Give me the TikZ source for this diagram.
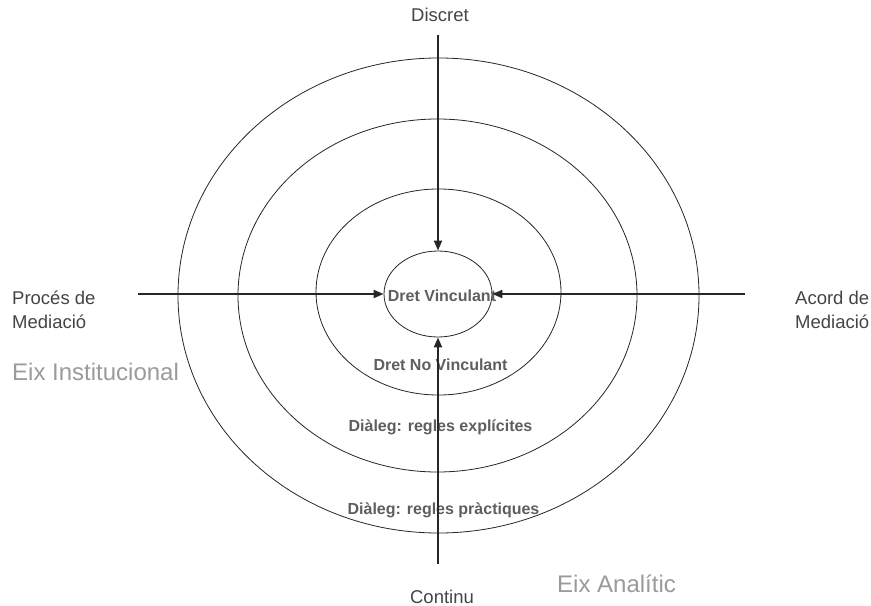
\documentclass[tikz,border=0pt]{standalone}
\usepackage{fontspec}
\setmainfont{Liberation Sans}
\usetikzlibrary{arrows.meta,shapes.geometric}
\definecolor{outertxt}{HTML}{444444}
\definecolor{innertxt}{HTML}{5E5E5E}
\definecolor{axistxt}{HTML}{9A9A9A}
\begin{document}
\begin{tikzpicture}[x=1bp,y=-1bp,
  ring/.style={draw=black!85,line width=0.8bp,ellipse,inner sep=0pt},
  axisarrow/.style={draw=black!85,line width=2bp,-{Triangle[length=10bp,width=8bp]}},
  endlabel/.style={text=outertxt,font=\fontsize{18.5bp}{24bp}\selectfont,inner sep=0pt},
  ringlabel/.style={text=innertxt,font=\bfseries\fontsize{16bp}{19bp}\selectfont,inner sep=0pt},
  axislabel/.style={text=axistxt,font=\fontsize{24bp}{28bp}\selectfont,inner sep=0pt}]
\useasboundingbox (0,0) rectangle (871,606);
% rings
\node[ring,minimum width=521bp,minimum height=475bp] (r4) at (438.5,295.5) {};
\node[ring,minimum width=399bp,minimum height=353bp] (r3) at (437.5,295.5) {};
\node[ring,minimum width=245bp,minimum height=206bp] (r2) at (438.5,292) {};
\node[ring,minimum width=108bp,minimum height=86bp] (r1) at (438,294) {};
% axis ends
\coordinate (top) at (438,35);
\coordinate (bot) at (438,564);
\coordinate (lft) at (138,294);
\coordinate (rgt) at (745,294);
% labels
\node[ringlabel] (dv) at (442,296) {Dret Vinculant};
\node[ringlabel] (dnv) at (440.5,365) {Dret No Vinculant};
\node[ringlabel] (dre) at (440.5,427) {Diàleg: regles explícites};
\node[ringlabel] (drp) at (443.5,510) {Diàleg: regles pràctiques};
% arrows
\draw[axisarrow] (top) -- (r1.north);
\draw[axisarrow] (bot) -- (r1.south);
\draw[axisarrow] (lft) -- (r1.west);
\draw[axisarrow] (rgt) -- (r1.east);
% end labels
\node[endlabel] (disc) at (440,15) {Discret};
\node[endlabel] (cont) at (442,597) {Continu};
\node[endlabel,align=left,anchor=west] (proc) at (12,310) {Procés de\\Mediació};
\node[endlabel,align=left,anchor=west] (acord) at (795,310) {Acord de\\Mediació};
\node[axislabel,anchor=west] (einst) at (12,372) {Eix Institucional};
\node[axislabel,anchor=west] (eanal) at (557,584) {Eix Analític};
\end{tikzpicture}
\end{document}
